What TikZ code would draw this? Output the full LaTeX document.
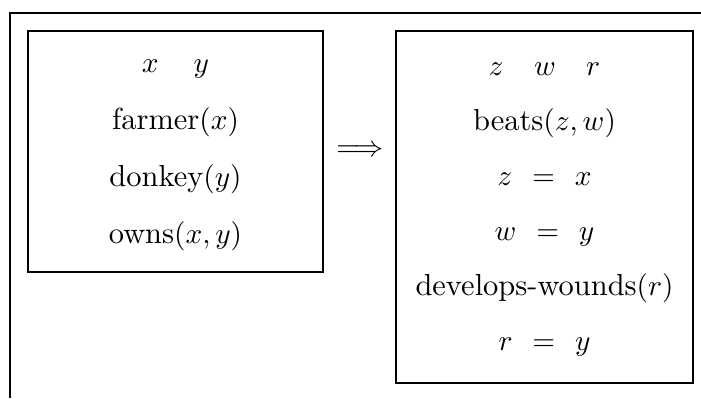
\documentclass[tikz,border=0pt]{standalone}
\usepackage{tikz}
\usetikzlibrary{positioning}
\newcommand{\drseq}[2]{#1\hspace{4pt}=\hspace{4pt}#2}
\tikzset{
    drsframe/.style={line width=0.9pt},
    drsbox/.style={rectangle,draw,line width=0.9pt,inner sep=0pt},
    drscond/.style={anchor=base,inner sep=0pt,font=\fontsize{10.4}{12}\selectfont},
    drsarrow/.style={inner sep=0pt}
}

\begin{document}
\begin{tikzpicture}[x=0.12mm,y=-0.12mm]
    \useasboundingbox (0,0) rectangle (701,398);
    \draw[drsframe] (701,13) -- (10,13) -- (10,398);
    % antecedent box
    \node[drsbox,minimum width=35.4mm,minimum height=28.9mm] (ante) at (175.5,151.5) {};
    \node[drscond] (anteref) at (175.5,72) {$x\hspace{12pt}y$};
    \node[drscond] (farmer) at (175.5,129) {farmer$(x)$};
    \node[drscond] (donkey) at (175.5,186) {donkey$(y)$};
    \node[drscond] (owns) at (175.5,243) {owns$(x,y)$};
    % consequent box
    \node[drsbox,minimum width=35.6mm,minimum height=42.2mm] (cons) at (544.5,207) {};
    \node[drscond] (consref) at (544.5,75) {$z\quad w\quad r$};
    \node[drscond] (beats) at (544.5,130) {beats$(z,w)$};
    \node[drscond] (zeqx) at (544.5,185) {$\drseq{z}{x}$};
    \node[drscond] (weqy) at (544.5,240) {$\drseq{w}{y}$};
    \node[drscond] (wounds) at (544.5,295) {develops-wounds$(r)$};
    \node[drscond] (reqy) at (544.5,350) {$\drseq{r}{y}$};
    \node[drsarrow] (imp) at (360,151) {$\Longrightarrow$};
\end{tikzpicture}
\end{document}
